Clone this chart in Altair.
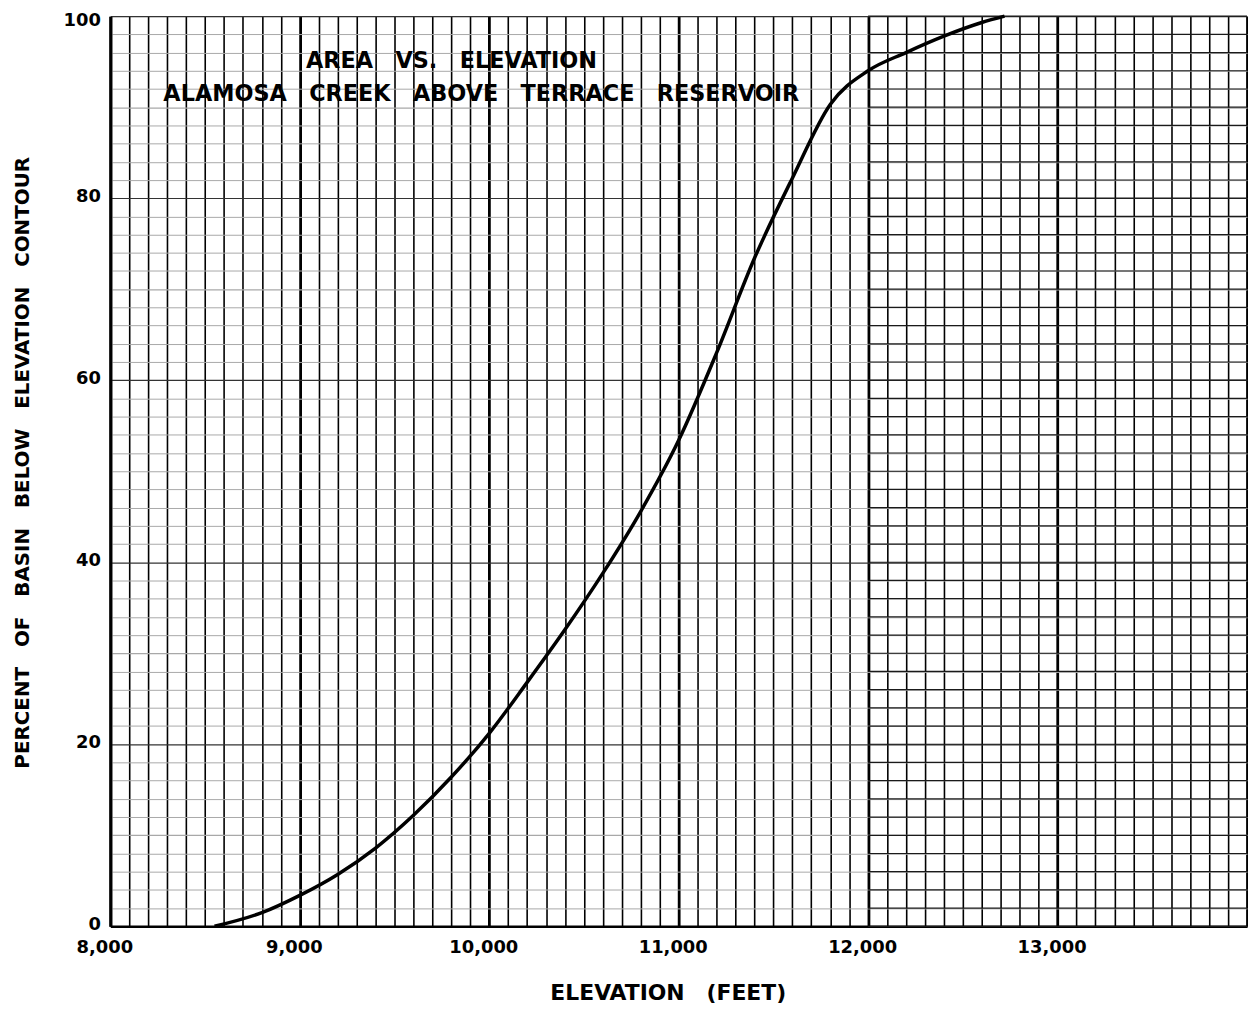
import altair as alt
import pandas as pd

# Curve (elevation in feet, percent of basin below contour)
elevation = [8550, 8800, 9000, 9200, 9400, 9600, 9800, 10000, 10200, 10400, 10600,
             10800, 11000, 11200, 11400, 11600, 11800, 12000, 12200, 12400, 12600, 12720]
percent = [0, 1.5, 3.4, 5.7, 8.6, 12.2, 16.4, 21.2, 26.8, 32.6, 38.8,
           45.6, 53.4, 63.0, 73.4, 82.2, 90.3, 94.0, 96.0, 97.8, 99.3, 100]

# Grid / tick values
x_grid = list(range(8000, 14001, 100))
y_grid = list(range(0, 101, 2))

# Annotation text inside the plot
title_lines = ["AREA\u2003VS.\u2003ELEVATION",
               "ALAMOSA\u2003CREEK\u2003ABOVE\u2003TERRACE\u2003RESERVOIR"]
title_elev = [9801, 9958]
title_pct = [95.1, 91.4]

curve_df = pd.DataFrame({"elev": elevation, "pct": percent})
text_df = pd.DataFrame({"elev": title_elev, "pct": title_pct, "label": title_lines})
dark_df = pd.DataFrame({"pct": y_grid, "elev": [12000] * len(y_grid), "elev2": [14000] * len(y_grid)})

FONT = "DejaVu Sans"

x_scale = alt.Scale(domain=[8000, 14000], nice=False, zero=False)
y_scale = alt.Scale(domain=[0, 100], nice=False, zero=True)

x_axis = alt.Axis(
    values=x_grid, tickCount=200,
    labelExpr="datum.value % 1000 === 0 && datum.value < 14000 ? format(datum.value, ',') : ''",
    labelOverlap=False, labelFlush=False, labelBound=False,
    labelFont=FONT, labelFontWeight="bold", labelFontSize=18, labelColor="black",
    labelPadding=12, labelOffset=-6,
    ticks=False,
    grid=True,
    gridColor="black",
    gridWidth={"condition": {"test": "datum.value % 1000 === 0", "value": 2.8}, "value": 1.6},
    gridOpacity=1,
    domain=True, domainColor="black", domainWidth=2.5,
    title="ELEVATION\u2003(FEET)",
    titleFont=FONT, titleFontWeight="bold", titleFontSize=22, titleColor="black",
    titleBaseline="alphabetic", titleY=74, titleX=561,
)

y_axis = alt.Axis(
    values=y_grid, tickCount=200,
    labelExpr="datum.value % 20 === 0 ? datum.value : ''",
    labelOverlap=False, labelFlush=False, labelBound=False,
    labelFont=FONT, labelFontWeight="bold", labelFontSize=18, labelColor="black",
    labelPadding=10,
    labelOffset={"condition": {"test": "datum.value === 100", "value": 4}, "value": -2},
    ticks=False,
    grid=True,
    gridColor={"condition": {"test": "datum.value % 20 === 0", "value": "#333333"},
               "value": "#a8a8a8"},
    gridWidth={"condition": {"test": "datum.value % 10 === 0", "value": 1.2}, "value": 1},
    gridOpacity=1,
    domain=True, domainColor="black", domainWidth=3,
    title="PERCENT\u2003OF\u2003BASIN\u2003BELOW\u2003ELEVATION\u2003CONTOUR",
    titleFont=FONT, titleFontWeight="bold", titleFontSize=20, titleColor="black",
    titleAngle=-90, titleBaseline="alphabetic", titleX=-82, titleY=449, titleAlign="center",
)

dark_rules = alt.Chart(dark_df).mark_rule(color="#1a1a1a", strokeWidth=1.2).encode(
    x=alt.X("elev:Q", scale=x_scale, axis=x_axis),
    x2="elev2:Q",
    y=alt.Y("pct:Q", scale=y_scale, axis=y_axis),
)

curve = alt.Chart(curve_df).mark_line(color="black", strokeWidth=3.5, interpolate="monotone").encode(
    x=alt.X("elev:Q", scale=x_scale),
    y=alt.Y("pct:Q", scale=y_scale),
)

text = alt.Chart(text_df).mark_text(
    font=FONT, fontWeight="bold", fontSize=22.5, color="black", align="center", baseline="middle"
).encode(
    x=alt.X("elev:Q", scale=x_scale),
    y=alt.Y("pct:Q", scale=y_scale),
    text="label:N",
)

chart = alt.layer(dark_rules, curve, text).properties(
    width=1144, height=916,
    autosize=alt.AutoSizeParams(type="none"),
    padding={"left": 103, "top": 5, "right": 1, "bottom": 76},
).configure_view(stroke="black", strokeWidth=2).configure(background="white")

chart.save("out.html", embed_options={"renderer": "svg", "actions": False})
